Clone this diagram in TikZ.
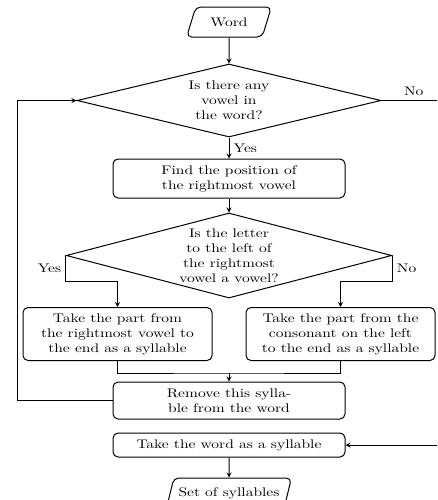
\documentclass[tikz,border=0pt]{standalone}
\usepackage{fontspec}
\setmainfont{lmroman10-regular.otf}[FakeStretch=1.24]
\usepackage{tikz}
\usetikzlibrary{shapes.geometric}

\begin{document}
\begin{tikzpicture}[x=0.8pt, y=-0.8pt, >=stealth, thick,
    every node/.style={align=center},
    procbox/.style={draw, rectangle, rounded corners=4pt, minimum width=185.6pt},
    sidebox/.style={draw, rectangle, rounded corners=4pt, minimum width=151.2pt, minimum height=42.4pt, anchor=north},
    decision/.style={draw, diamond, aspect=4.2, inner sep=0pt, minimum width=243.2pt},
    iobox/.style={draw, trapezium, trapezium left angle=70, trapezium right angle=110,
      trapezium stretches=true, rounded corners=4pt, minimum height=24pt}]

  \useasboundingbox (0,0) rectangle (437,500);
  \clip (0,0) rectangle (437,500);

  % ── Input and first test ──────────────────────────────────────
  \node[iobox, minimum width=68pt] (word) at (229,22) {Word};
  \node[decision, minimum height=58.4pt] (anyvowel) at (229,100.5)
    {Is there any\\vowel in\\the word?};

  % ── Rightmost vowel and its left neighbour ────────────────────
  \node[procbox, minimum height=31.2pt] (findpos) at (229,178.5)
    {Find the position of\\the rightmost vowel};
  \node[decision, minimum height=68pt] (leftvowel) at (229,255.5)
    {Is the letter\\to the left of\\the rightmost\\vowel a vowel?};

  % ── The two ways of cutting a syllable ────────────────────────
  \node[sidebox] (fromvowel) at (117.5,307)
    {Take the part from\\the rightmost vowel to\\the end as a syllable};
  \node[sidebox] (fromcons) at (340.5,307)
    {Take the part from the\\consonant on the left\\to the end as a syllable};

  % ── Removal, last syllable, output ────────────────────────────
  \node[procbox, minimum height=29.6pt] (remove) at (229,400.5)
    {Remove this sylla-\\ble from the word};
  \node[procbox, minimum height=19.2pt] (wholeword) at (229,445)
    {Take the word as a syllable};
  \node[iobox, minimum width=100pt] (syllables) at (229,493) {Set of syllables};

  \coordinate (merge) at (229,373);
  \coordinate (loopback) at (17,100.5);
  \coordinate (rightside) at (446,100.5);

  % ── Connectors ────────────────────────────────────────────────
  \draw[->] (word) -- (anyvowel);
  \draw[->] (anyvowel) -- node[right] {Yes} (findpos);
  \draw[->] (findpos) -- (leftvowel);
  \draw[->] (leftvowel.west) -- node[left] {Yes} ++(0,26) -| (fromvowel.north);
  \draw[->] (leftvowel.east) -- node[right] {No} ++(0,26) -| (fromcons.north);
  \draw (fromvowel.south) |- (merge) -| (fromcons.south);
  \draw[->] (merge) -- (remove);
  \draw[->] (remove.west) -| (loopback) -- (anyvowel.west);
  \draw[->] (anyvowel.east) -- node[above] {No} (rightside) |- (wholeword.east);
  \draw[->] (wholeword) -- (syllables);

\end{tikzpicture}
\end{document}
